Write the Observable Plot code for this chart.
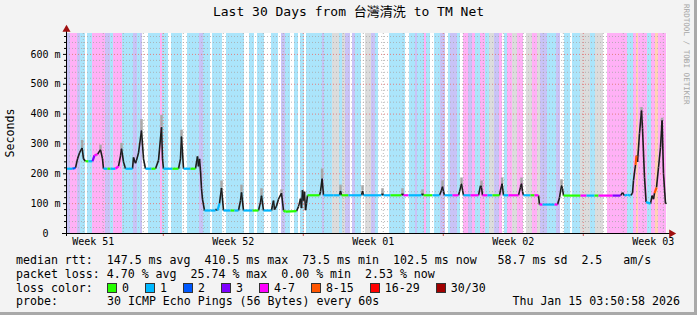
<!DOCTYPE html>
<html><head><meta charset="utf-8">
<script src="https://cdn.jsdelivr.net/npm/d3@7"></script>
<script src="https://cdn.jsdelivr.net/npm/@observablehq/plot@0.6"></script>
<style>
body{margin:0;background:#f3f3f3}
#wrap{position:relative;width:697px;height:315px;background:#f3f3f3;overflow:hidden;font-family:"DejaVu Sans Mono","Noto Sans CJK TC",monospace;color:#000}
#edgeR{position:absolute;right:0;top:0;width:3px;height:315px;background:#a9a9a9}
#edgeB{position:absolute;left:0;bottom:0;width:697px;height:3px;background:#a9a9a9}
#title{position:absolute;left:0;top:3px;width:697px;text-align:center;font-size:13px;line-height:18px;white-space:pre}
#ylab{position:absolute;left:10px;top:133px;font-size:11.6px;transform:translate(-50%,-50%) rotate(-90deg);white-space:pre}
#mark{position:absolute;left:682px;top:4px;font-size:7.6px;color:#a6a6a6;writing-mode:vertical-rl;white-space:pre}
#chart{position:absolute;left:0;top:0}
#legend{position:absolute;left:16px;top:254px;font-size:11.6px;line-height:13.8px;white-space:pre}
.row{height:13.8px;position:relative}
.lab{display:inline-block;width:91px}
.box{display:inline-block;width:10px;height:10px;box-sizing:border-box;border:1px solid #333;vertical-align:-1px;margin-right:5px}
.item{margin-right:16px}
#date{position:absolute;right:1px;top:0}
</style>
</head><body>
<div id="wrap">
  <div id="chart"></div>
  <div id="title"></div>
  <div id="ylab">Seconds</div>
  <div id="mark">RRDTOOL / TOBI OETIKER</div>
  <div id="legend"></div>
  <div id="edgeR"></div><div id="edgeB"></div>
</div>
<script>
// ---------- data ----------
const titleText = "Last 30 Days from 台灣清洗 to TM Net";
const startTime = Date.UTC(2025, 11, 16, 3, 50, 58);
const endTime = Date.UTC(2026, 0, 15, 3, 50, 58);

const weekLabels = ["Week 51", "Week 52", "Week 01", "Week 02", "Week 03"];
const weekLabelDates = ["2025-12-17T12:00Z", "2025-12-24T12:00Z", "2025-12-31T12:00Z", "2026-01-07T12:00Z", "2026-01-14T12:00Z"];

// loss-background stripes: start (days since start) and loss class
const stripeStart = [0,0.2,0.55,0.7,0.95,1.05,1.3,1.95,2.2,2.35,2.8,3.35,3.55,3.7,3.8,4.1,4.7,4.8,5.1,5.25,5.8,6.05,6.65,6.85,7.2,7.3,7.8,8.0,8.9,9.15,9.4,9.55,9.9,10.25,10.6,10.75,10.95,11.2,11.4,11.6,11.7,11.9,12.0,12.8,12.9,13.3,13.65,13.8,13.95,14.2,14.3,14.45,14.75,14.95,15.25,15.45,15.6,16.15,16.95,17.15,17.45,17.55,17.9,18.0,18.2,18.4,18.7,18.95,19.1,19.2,19.55,19.7,19.85,20.1,20.3,20.45,20.7,20.95,21.15,21.4,21.65,21.8,21.9,22.05,22.3,22.55,22.85,23.0,23.3,23.55,23.7,24.05,24.5,24.7,24.9,25.2,25.3,25.7,26.2,26.45,26.85,27.05,28.05,28.35,28.5,28.6,29.05,29.25,29.45,29.6];
const stripeCode  = ["v","p","v","b","w","b","p","v","b","p","b","v","b","v","w","b","p","b","w","b","w","b","v","b","w","b","w","b","w","b","w","b","w","b","w","v","b","w","b","w","b","w","b","v","b","g","b","g","v","w","v","b","w","g","v","b","w","b","w","b","v","b","p","b","w","b","v","w","b","v","b","w","p","v","p","b","p","b","g","v","p","w","b","p","g","p","w","g","p","g","v","b","v","w","b","w","b","g","b","g","w","p","b","p","o","p","b","p","o","p"];

// median rtt (ms) with loss class per segment ("k" = peak / smoke-dark)
const medDay = [0,0.3,0.45,0.55,0.65,0.78,0.85,0.95,1.1,1.3,1.4,1.55,1.7,1.8,1.85,2.05,2.2,2.45,2.6,2.7,2.75,2.85,2.95,3.3,3.35,3.45,3.5,3.6,3.75,3.85,3.95,4.25,4.45,4.6,4.75,4.8,4.85,5.3,5.6,5.7,5.75,5.85,6.2,6.45,6.55,6.6,6.65,6.7,6.75,6.8,6.9,7.2,7.45,7.5,7.55,7.65,7.75,7.85,8.2,8.4,8.6,8.7,8.75,8.85,9.3,9.6,9.7,9.75,9.85,10.25,10.3,10.35,10.4,10.5,10.6,10.75,10.85,10.95,11.5,11.6,11.7,11.75,11.8,11.85,11.9,11.95,12.0,12.05,12.65,12.7,12.78,12.85,13.35,13.65,13.7,13.75,14.1,14.75,14.8,14.85,15.75,15.8,15.85,16.2,16.75,16.8,16.85,17.1,17.75,17.8,17.85,18.3,18.65,18.75,18.8,18.85,18.9,19.3,19.6,19.65,19.75,19.8,19.85,20.2,20.6,20.7,20.75,20.8,21.05,21.3,21.65,21.7,21.78,21.85,22.1,22.6,22.7,22.75,22.8,22.85,23.2,23.4,23.6,23.65,23.8,24.4,24.55,24.65,24.75,24.8,24.85,25.7,26.0,26.4,26.6,27.3,27.7,27.8,27.9,28.05,28.2,28.3,28.35,28.45,28.5,28.55,28.65,28.75,28.8,28.9,28.98,29.2,29.28,29.35,29.4,29.5,29.6,29.7,29.78,29.85,29.95,30.0];
const medMs  = [217,217,220,250,270,287,250,242,242,242,262,265,281,250,217,217,217,217,225,260,284,240,217,217,255,235,245,270,345,250,217,217,217,245,356,250,217,217,217,250,325,217,217,217,258,225,250,210,150,115,77,77,77,82,77,100,153,77,77,77,77,110,138,77,77,77,105,127,77,77,95,110,80,92,115,135,77,73,75,90,117,85,145,110,140,78,100,128,128,140,184,128,128,128,143,128,128,128,143,128,128,133,128,128,128,133,128,128,128,133,128,128,128,145,157,140,128,128,128,140,167,145,128,128,128,160,155,128,128,128,128,145,167,128,128,128,155,167,140,128,128,128,128,97,97,97,97,120,161,150,127,127,127,127,127,127,127,137,127,130,127,135,178,230,261,240,335,412,352,188,105,100,127,115,135,154,221,288,379,201,100,102];
const medLoss = ["1","2","k","k","k","k","k","0","1","3","4","k","k","k","1","0","1","4","k","k","k","k","1","k","k","k","k","k","k","k","1","0","k","k","k","k","1","0","k","k","k","1","0","k","k","k","k","k","k","k","1","1","k","k","1","k","k","1","0","1","k","k","k","1","0","k","k","k","1","k","k","k","k","k","k","k","0","0","k","k","k","k","k","k","k","k","k","0","k","k","k","1","1","k","k","0","1","k","k","1","k","k","1","0","k","k","4","1","k","k","0","1","k","k","k","k","1","4","k","k","k","k","1","4","k","k","k","4","1","0","k","k","k","1","4","k","k","k","k","1","0","4","k","4","1","4","k","k","k","k","0","4","1","0","4","3","k","k","1","1","k","k","k","8","k","k","k","k","k","k","1","k","k","k","8","k","k","k","k","k","k","k"];

// smoke (spread of pings) at the peaks
const smokeDay = [0.78,1.7,2.75,3.75,4.75,5.75,7.75,8.75,9.75,10.75,12.78,13.7,14.8,15.8,16.8,17.8,18.8,19.75,20.75,21.78,22.75,24.75,28.75,29.78];
const smokeLo  = [287,281,284,345,356,325,153,138,127,135,184,143,143,128,128,128,157,167,155,167,167,161,412,379];
const smokeHi  = [312,296,302,382,396,346,176,162,150,146,216,162,160,150,150,146,176,186,176,186,186,180,422,386];

// legend
const lossLabels = ["0", "1", "2", "3", "4-7", "8-15", "16-29", "30/30"];
const lossColors = ["#26ff00", "#00b8ff", "#0059ff", "#7e00ff", "#ff00fe", "#ff5500", "#ff0000", "#a10000"];
const statsLine = "median rtt:  147.5 ms avg  410.5 ms max  73.5 ms min  102.5 ms now   58.7 ms sd  2.5   am/s";
const lossLine = "packet loss: 4.70 % avg  25.74 % max  0.00 % min  2.53 % now";
const probeLabel = "probe:";
const probeText = "30 ICMP Echo Pings (56 Bytes) every 60s";
const stampText = "Thu Jan 15 03:50:58 2026";

// ---------- build ----------
const DAY = 864e5;
const toDate = d => new Date(startTime + d * DAY);
const bgColor = {b: "#abe5fb", v: "#c9c3f7", p: "#ffb1f6", g: "#dcdcdc", o: "#ffd3b5", w: "#ffffff"};
const lineColor = {"0": lossColors[0], "1": lossColors[1], "2": lossColors[2], "3": lossColors[3], "4": lossColors[4], "8": lossColors[5], "k": "#1c1c1c"};

const stripes = stripeStart.map((s, i) => ({
  x1: toDate(s), x2: toDate(i + 1 < stripeStart.length ? stripeStart[i + 1] : 30), code: stripeCode[i]
}));
const segs = [];
for (let i = 0; i < medDay.length - 1; i++) {
  segs.push({x1: toDate(medDay[i]), y1: medMs[i], x2: toDate(medDay[i + 1]), y2: medMs[i + 1], loss: medLoss[i]});
}
const segK = segs.filter(s => s.loss === "k");
const segC = segs.filter(s => s.loss !== "k");
const smoke = smokeDay.map((d, i) => ({x: toDate(d), lo: smokeLo[i], hi: smokeHi[i]}));

const t0 = new Date(startTime), t1 = new Date(endTime);
const majorX = d3.utcSunday.range(t0, t1);
const minorX = d3.utcDay.range(t0, t1).filter(d => d.getUTCDay() !== 0);
const majorY = d3.range(0, 700, 100);
const minorY = d3.range(20, 680, 20).filter(v => v % 100 !== 0);

const plot = Plot.plot({
  width: 697, height: 250,
  marginLeft: 66, marginRight: 31, marginTop: 33, marginBottom: 17,
  x: {type: "utc", domain: [t0, t1]},
  y: {domain: [0, 670]},
  style: {background: "transparent", fontFamily: "DejaVu Sans Mono, monospace", fontSize: "10px", color: "#000", overflow: "visible"},
  marks: [
    Plot.frame({fill: "#ffffff", stroke: null}),
    Plot.rect(stripes, {x1: "x1", x2: "x2", fill: d => bgColor[d.code]}),
    Plot.ruleY(minorY, {stroke: "#a8a8a8", strokeOpacity: 0.8, strokeDasharray: "1,2", strokeWidth: 1}),
    Plot.ruleX(minorX, {stroke: "#a8a8a8", strokeOpacity: 0.8, strokeDasharray: "1,2", strokeWidth: 1}),
    Plot.ruleY(majorY.filter(v => v > 0), {stroke: "#e08080", strokeDasharray: "1,2", strokeWidth: 1}),
    Plot.ruleX(majorX, {stroke: "#e08080", strokeDasharray: "1,2", strokeWidth: 1}),
    Plot.ruleX(smoke, {x: "x", y1: "lo", y2: "hi", stroke: "#a8a8a8", strokeWidth: 2.5}),
    Plot.link(segK, {x1: "x1", y1: "y1", x2: "x2", y2: "y2", stroke: "#1c1c1c", strokeWidth: 1.6}),
    Plot.link(segC, {x1: "x1", y1: "y1", x2: "x2", y2: "y2", stroke: d => lineColor[d.loss], strokeWidth: 2.2}),
    Plot.axisY({ticks: majorY, tickSize: 3, tickPadding: 3, tickFormat: v => v === 0 ? "0\u00a0\u00a0" : `${v} m`, label: null}),
    Plot.axisY({ticks: minorY, tickSize: 2, tickFormat: () => "", label: null}),
    Plot.axisX({ticks: majorX, tickSize: 3, stroke: "#d05050", tickFormat: () => "", label: null}),
    Plot.axisX({ticks: weekLabelDates.map(s => new Date(s)), tickSize: 0, tickPadding: 4, tickFormat: (d, i) => weekLabels[i], label: null}),
    Plot.ruleY([0], {stroke: "#000", insetLeft: -4, insetRight: -4}),
    Plot.ruleX([t0], {stroke: "#000", insetTop: -3, insetBottom: -3}),
    Plot.dot([0], {frameAnchor: "top-left", symbol: "triangle", r: 3, fill: "#a01010", stroke: null, dy: -4}),
    Plot.dot([0], {frameAnchor: "bottom-right", symbol: "triangle", rotate: 90, r: 3, fill: "#a01010", stroke: null, dx: 5})
  ]
});
document.getElementById("chart").append(plot);
document.getElementById("title").textContent = titleText;

// legend block
const lg = document.getElementById("legend");
const r1 = document.createElement("div"); r1.className = "row"; r1.textContent = statsLine; lg.append(r1);
const r2 = document.createElement("div"); r2.className = "row"; r2.textContent = lossLine; lg.append(r2);
const r3 = document.createElement("div"); r3.className = "row";
const l3 = document.createElement("span"); l3.className = "lab"; l3.textContent = "loss color:"; r3.append(l3);
lossLabels.forEach((t, i) => {
  const b = document.createElement("span"); b.className = "box"; b.style.background = lossColors[i]; r3.append(b);
  const s = document.createElement("span"); s.className = "item"; s.textContent = t; r3.append(s);
});
lg.append(r3);
const r4 = document.createElement("div"); r4.className = "row";
const l4 = document.createElement("span"); l4.className = "lab"; l4.textContent = probeLabel; r4.append(l4);
const p4 = document.createElement("span"); p4.textContent = probeText; r4.append(p4);
const d4 = document.createElement("span"); d4.id = "date"; d4.textContent = stampText; r4.append(d4);
lg.append(r4);
document.getElementById("legend").style.width = "665px";
</script>
</body></html>
